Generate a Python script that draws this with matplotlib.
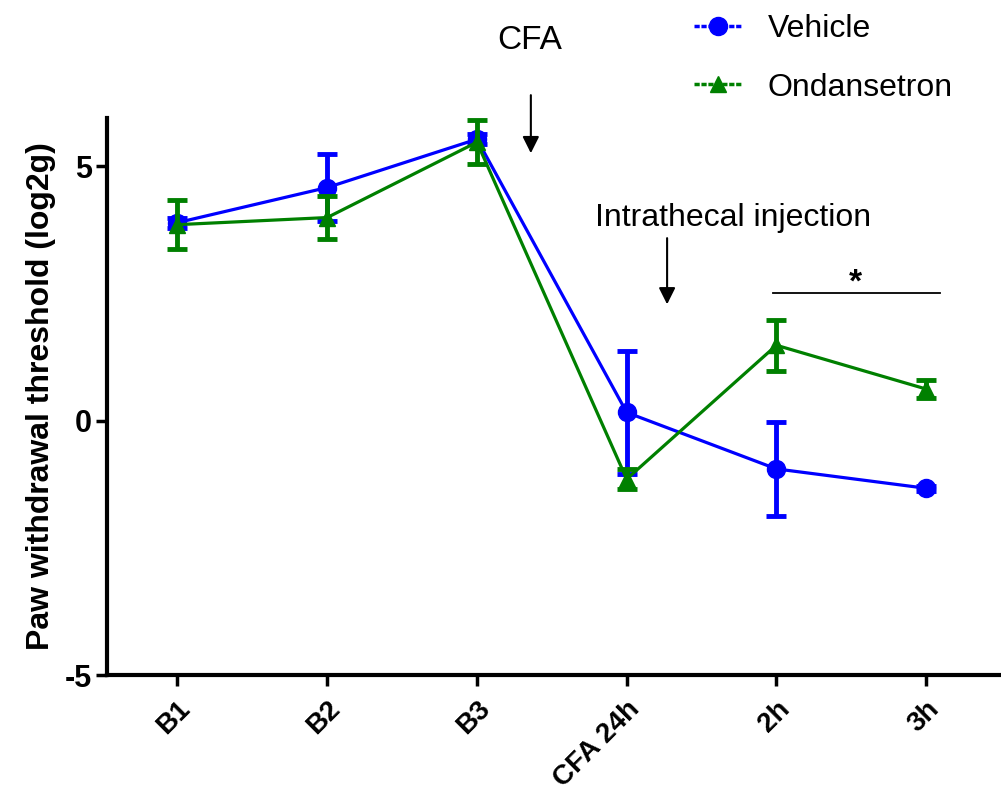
import matplotlib.pyplot as plt
from matplotlib.lines import Line2D

plt.rcParams['font.family'] = ['Liberation Sans', 'DejaVu Sans']

# Data
timepoints = ['B1', 'B2', 'B3', 'CFA 24h', '2h', '3h']
vehicle = [3.89, 4.58, 5.53, 0.16, -0.95, -1.33]
vehicle_err = [0.1, 0.66, 0.1, 1.2, 0.93, 0.05]
ondansetron = [3.85, 3.99, 5.47, -1.15, 1.48, 0.62]
ondansetron_err = [0.48, 0.42, 0.43, 0.2, 0.5, 0.18]

blue = '#0000FF'
green = '#008000'
x = list(range(len(timepoints)))

fig = plt.figure(figsize=(10.01, 7.96), dpi=100)
ax = fig.add_axes([0.107, 0.152, 0.893, 0.70])

ax.errorbar(x, vehicle, yerr=vehicle_err, color=blue, marker='o', markersize=13,
            linewidth=2.3, elinewidth=3.5, capsize=7, capthick=3.5, zorder=3)
ax.errorbar(x, ondansetron, yerr=ondansetron_err, color=green, marker='^', markersize=11,
            linewidth=2.3, elinewidth=3.5, capsize=7, capthick=3.5, zorder=4)

ax.set_xlim(-0.47, 5.5)
ax.set_ylim(-5, 5.95)
ax.set_yticks([-5, 0, 5])
ax.set_yticklabels(['-5', '0', '5'], fontsize=22, fontweight='bold')
ax.set_xticks(x)
ax.set_xticklabels(timepoints, rotation=45, ha='right', rotation_mode='anchor',
                   fontsize=20, fontweight='bold')
ax.set_ylabel('Paw withdrawal threshold (log2g)', fontsize=23, fontweight='bold', labelpad=6)

for s in ['top', 'right']:
    ax.spines[s].set_visible(False)
for s in ['left', 'bottom']:
    ax.spines[s].set_linewidth(3)
ax.tick_params(axis='both', width=2.5, length=8, direction='out')
ax.tick_params(axis='x', pad=7)
ax.tick_params(axis='y', pad=3)

# Annotations
ax.annotate('', xy=(2.36, 5.2), xytext=(2.36, 6.45),
            arrowprops=dict(arrowstyle='-|>', color='black', lw=1.5, mutation_scale=25),
            annotation_clip=False)
ax.text(2.35, 7.47, 'CFA', fontsize=24, ha='center', va='center', clip_on=False)

ax.annotate('', xy=(3.27, 2.23), xytext=(3.27, 3.64),
            arrowprops=dict(arrowstyle='-|>', color='black', lw=1.5, mutation_scale=25))
ax.text(3.71, 3.99, 'Intrathecal injection', fontsize=23, ha='center', va='center')

ax.plot([3.98, 5.09], [2.51, 2.51], color='black', linewidth=1.3)
ax.text(4.53, 2.7, '*', fontsize=24, fontweight='bold', ha='center', va='center')

# Legend (GraphPad style dashed handles)
handles = [
    Line2D([], [], color=blue, marker='o', markersize=13, linestyle=(0, (1.5, 0.5)), linewidth=2.5),
    Line2D([], [], color=green, marker='^', markersize=11, linestyle=(0, (1.5, 0.5)), linewidth=2.5),
]
fig.legend(handles, ['Vehicle', 'Ondansetron'], loc='upper left', bbox_to_anchor=(0.665, 1.018),
           frameon=False, fontsize=23, handlelength=1.5, labelspacing=0.88, handletextpad=0.8)

fig.savefig('out.png', dpi=100)
